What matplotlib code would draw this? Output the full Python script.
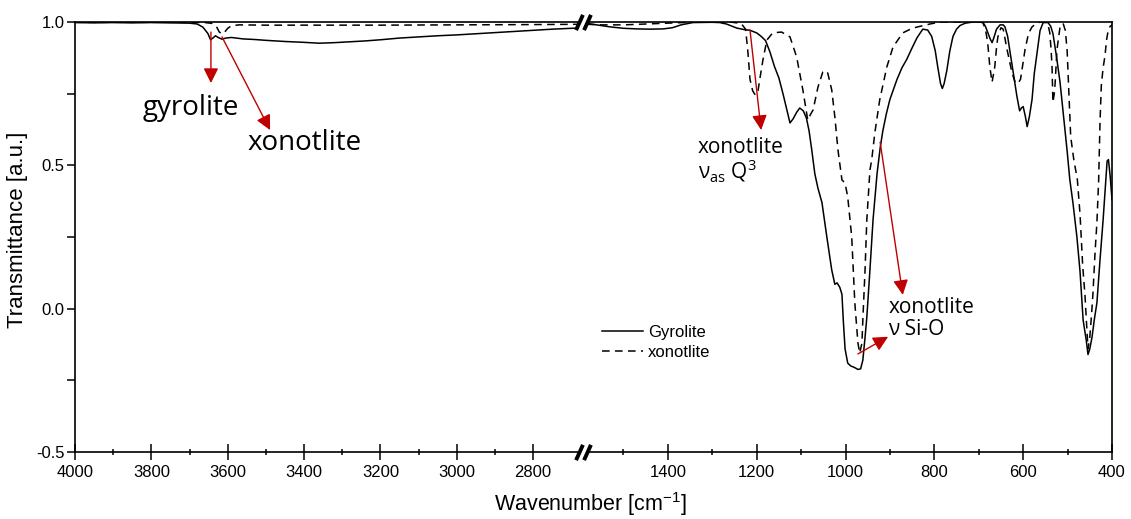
import matplotlib
matplotlib.use('Agg')
import matplotlib.pyplot as plt
from matplotlib.ticker import FixedLocator, FormatStrFormatter

plt.rcParams['font.family'] = ['Liberation Sans', 'DejaVu Sans']
plt.rcParams['axes.unicode_minus'] = False

# --- FTIR spectra (wavenumber in cm-1, transmittance in a.u.)
# high-wavenumber window (left panel)
gyr_wn_hi = [4000, 3950, 3900, 3850, 3800, 3750, 3700, 3680, 3665, 3652, 3645, 3638,
             3632, 3625, 3615, 3605, 3590, 3560, 3530, 3500, 3450, 3400, 3360, 3320,
             3280, 3240, 3200, 3150, 3100, 3050, 3000, 2950, 2900, 2850, 2800, 2750,
             2700, 2680]
gyr_tr_hi = [0.998, 0.997, 0.998, 0.997, 0.998, 0.997, 0.996, 0.993, 0.982, 0.960, 0.938, 0.945,
             0.952, 0.946, 0.940, 0.944, 0.946, 0.941, 0.939, 0.936, 0.932, 0.929, 0.926, 0.928,
             0.931, 0.934, 0.938, 0.944, 0.948, 0.952, 0.955, 0.959, 0.963, 0.967, 0.971, 0.975,
             0.978, 0.979]

xon_wn_hi = [4000, 3900, 3800, 3700, 3660, 3640, 3630, 3622, 3615, 3608, 3600, 3590,
             3570, 3500, 3400, 3200, 3000, 2800, 2680]
xon_tr_hi = [0.999, 0.999, 0.999, 0.999, 0.998, 0.995, 0.985, 0.965, 0.958, 0.965, 0.978, 0.987,
             0.990, 0.989, 0.989, 0.989, 0.990, 0.991, 0.992]

# fingerprint window (right panel)
gyr_wn_lo = [1582, 1560, 1530, 1500, 1470, 1440, 1410, 1390, 1370, 1344, 1300, 1283,
             1268, 1255, 1245, 1230, 1215, 1200, 1190, 1180, 1170, 1160, 1150, 1140,
             1132, 1125, 1118, 1110, 1103, 1095, 1088, 1082, 1076, 1069, 1062, 1053,
             1042, 1031, 1024, 1019, 1013, 1008, 1005, 1001, 995, 988, 980, 972,
             966, 961, 956, 952, 945, 938, 929, 922, 916, 908, 900, 892,
             884, 873, 862, 850, 839, 826, 815, 806, 798, 792, 786, 782,
             778, 772, 765, 758, 750, 742, 730, 713, 691, 685, 680, 674,
             670, 666, 660, 652, 645, 641, 635, 630, 622, 614, 608, 604,
             600, 595, 591, 586, 580, 575, 569, 562, 555, 544, 538, 533,
             525, 517, 509, 501, 495, 488, 479, 472, 465, 458, 454, 450,
             445, 440, 434, 427, 420, 414, 411, 408, 404, 400]
gyr_tr_lo = [0.995, 0.990, 0.983, 0.978, 0.976, 0.975, 0.976, 0.980, 0.990, 0.998, 0.999, 0.998,
             0.993, 0.985, 0.979, 0.974, 0.971, 0.962, 0.950, 0.935, 0.895, 0.845, 0.805, 0.745,
             0.693, 0.648, 0.662, 0.685, 0.700, 0.690, 0.665, 0.620, 0.554, 0.470, 0.420, 0.370,
             0.250, 0.135, 0.085, 0.090, 0.075, 0.050, -0.040, -0.140, -0.190, -0.200, -0.205, -0.212,
             -0.210, -0.180, -0.100, -0.030, 0.135, 0.310, 0.470, 0.560, 0.620, 0.680, 0.730, 0.765,
             0.800, 0.840, 0.870, 0.910, 0.945, 0.975, 0.972, 0.950, 0.900, 0.840, 0.785, 0.768,
             0.785, 0.830, 0.900, 0.950, 0.975, 0.988, 0.996, 1.000, 1.000, 0.985, 0.965, 0.940,
             0.928, 0.945, 0.975, 0.990, 0.990, 0.983, 0.950, 0.900, 0.820, 0.740, 0.690, 0.700,
             0.705, 0.670, 0.635, 0.670, 0.730, 0.820, 0.890, 0.970, 0.998, 0.998, 0.985, 0.960,
             0.880, 0.790, 0.670, 0.550, 0.450, 0.370, 0.250, 0.130, -0.040, -0.110, -0.160, -0.140,
             -0.100, -0.040, 0.020, 0.170, 0.310, 0.450, 0.515, 0.520, 0.460, 0.380]

xon_wn_lo = [1582, 1550, 1500, 1450, 1400, 1350, 1300, 1260, 1235, 1225, 1220, 1215,
             1209, 1203, 1197, 1193, 1186, 1177, 1164, 1144, 1125, 1110, 1096, 1085,
             1078, 1073, 1062, 1051, 1045, 1040, 1031, 1024, 1017, 1008, 1001, 995,
             986, 979, 972, 968, 963, 961, 956, 952, 945, 941, 934, 923,
             907, 893, 871, 850, 832, 810, 787, 700, 691, 685, 680, 675,
             670, 664, 660, 657, 650, 645, 636, 625, 618, 612, 606, 600,
             596, 588, 580, 570, 562, 550, 544, 540, 537, 535, 533, 530,
             528, 524, 517, 510, 505, 501, 497, 493, 486, 478, 472, 466,
             461, 457, 454, 450, 446, 443, 438, 434, 430, 427, 424, 420,
             416, 412, 408, 404, 400]
xon_tr_lo = [0.992, 0.990, 0.990, 0.993, 0.996, 0.999, 1.000, 1.000, 0.995, 0.975, 0.900, 0.800,
             0.760, 0.745, 0.760, 0.800, 0.867, 0.937, 0.962, 0.965, 0.948, 0.878, 0.763, 0.658,
             0.680, 0.693, 0.773, 0.826, 0.830, 0.822, 0.763, 0.669, 0.554, 0.449, 0.438, 0.390,
             0.250, 0.020, -0.120, -0.155, -0.120, -0.040, 0.135, 0.310, 0.484, 0.519, 0.613, 0.728,
             0.843, 0.913, 0.962, 0.978, 0.985, 0.993, 1.000, 1.000, 0.998, 0.975, 0.930, 0.843,
             0.790, 0.843, 0.910, 0.948, 0.980, 0.975, 0.902, 0.822, 0.790, 0.785, 0.800, 0.860,
             0.902, 0.960, 0.983, 0.995, 1.000, 1.000, 0.990, 0.962, 0.900, 0.843, 0.720, 0.750,
             0.787, 0.902, 0.983, 0.995, 0.970, 0.900, 0.750, 0.600, 0.520, 0.450, 0.330, 0.150,
             0.050, -0.060, -0.140, -0.100, -0.020, 0.050, 0.200, 0.300, 0.450, 0.650, 0.780, 0.840,
             0.880, 0.940, 0.975, 0.985, 0.990]

hi_major = [4000, 3800, 3600, 3400, 3200, 3000, 2800]
hi_minor = [3900, 3700, 3500, 3300, 3100, 2900]
lo_major = [1400, 1200, 1000, 800, 600, 400]
lo_minor = [1500, 1300, 1100, 900, 700, 500]
y_major = [-0.5, 0.0, 0.5, 1.0]
y_minor = [-0.25, 0.25, 0.75]

W, H = 1131, 519
fig = plt.figure(figsize=(W / 100, H / 100), dpi=100)
ax_l = fig.add_axes([75 / W, 1 - 452 / H, (579 - 75) / W, 430 / H])
ax_r = fig.add_axes([587 / W, 1 - 452 / H, (1112 - 587) / W, 430 / H])

solid = dict(color='black', lw=1.1, ls='-')
dashed = dict(color='black', lw=1.1, ls=(0, (5, 3.5)))

ax_l.plot(gyr_wn_hi, gyr_tr_hi, **solid)
ax_l.plot(xon_wn_hi, xon_tr_hi, **dashed)
h1, = ax_r.plot(gyr_wn_lo, gyr_tr_lo, label='Gyrolite', **solid)
h2, = ax_r.plot(xon_wn_lo, xon_tr_lo, label='xonotlite', **dashed)

ax_l.set_xlim(4000, 2680)
ax_r.set_xlim(1582, 400)
for ax in (ax_l, ax_r):
    ax.set_ylim(-0.5, 1.0)
    for s in ax.spines.values():
        s.set_linewidth(1.2)
    ax.tick_params(axis='x', which='major', direction='inout', length=11.5, width=1.1,
                   labelsize=12, pad=3.5)
    ax.tick_params(axis='x', which='minor', direction='inout', length=5, width=1.1)

ax_l.xaxis.set_major_locator(FixedLocator(hi_major))
ax_l.xaxis.set_minor_locator(FixedLocator(hi_minor))
ax_r.xaxis.set_major_locator(FixedLocator(lo_major))
ax_r.xaxis.set_minor_locator(FixedLocator(lo_minor))
ax_l.xaxis.set_major_formatter(FormatStrFormatter('%d'))
ax_r.xaxis.set_major_formatter(FormatStrFormatter('%d'))

ax_l.yaxis.set_major_locator(FixedLocator(y_major))
ax_l.yaxis.set_minor_locator(FixedLocator(y_minor))
ax_l.yaxis.set_major_formatter(FormatStrFormatter('%.1f'))
ax_l.tick_params(axis='y', which='both', direction='out', length=5.5, width=1.1,
                 labelsize=12, pad=2)
ax_l.spines['right'].set_visible(False)

ax_r.spines['left'].set_visible(False)
ax_r.tick_params(axis='y', which='both', left=False, labelleft=False)

# break marks
slash = [(-0.45, -1), (0.45, 1)]
mk = dict(marker=slash, markersize=11, mew=2.8, ls='none', color='black', clip_on=False)
ax_l.plot([1, 1], [0, 1], transform=ax_l.transAxes, **mk)
ax_r.plot([0, 0], [0, 1], transform=ax_r.transAxes, **mk)

fig.text(18 / W, 1 - 230 / H, 'Transmittance [a.u.]', rotation=90, fontsize=16,
         ha='center', va='center')
fig.text(590 / W, 1 - 504 / H, 'Wavenumber [cm$\\mathregular{^{-1}}$]', fontsize=15.5,
         ha='center', va='center')

fig.legend(handles=[h1, h2], loc='upper left', bbox_to_anchor=(602 / W, 1 - 325 / H),
           frameon=False, fontsize=12, handlelength=2.45, handletextpad=0.3,
           borderpad=0, borderaxespad=0, labelspacing=0.3)

# annotations
red = '#c00000'
arrow = dict(arrowstyle='-|>,head_length=0.6,head_width=0.3', color=red, lw=1.0,
             shrinkA=0, shrinkB=0, mutation_scale=15)
note_font = ['Open Sans', 'DejaVu Sans']

ax_l.annotate('', xy=(3644, 0.787), xytext=(3644, 0.965), arrowprops=arrow)
ax_l.annotate('', xy=(3489, 0.623), xytext=(3615, 0.948), arrowprops=arrow)
ax_r.annotate('', xy=(1190, 0.623), xytext=(1215, 0.972), arrowprops=arrow)
ax_r.annotate('', xy=(871, 0.048), xytext=(922, 0.581), arrowprops=arrow)
ax_r.annotate('', xy=(904, -0.098), xytext=(972, -0.158), arrowprops=arrow)

ax_l.text(3822, 0.676, 'gyrolite', fontsize=20, family=note_font, va='baseline')
ax_l.text(3549, 0.554, 'xonotlite', fontsize=20, family=note_font, va='baseline')
ax_r.text(1332, 0.543, 'xonotlite', fontsize=15, family=note_font, va='baseline')
ax_r.text(1332, 0.456, 'ν$_\\mathregular{as}$ Q$^\\mathregular{3}$', fontsize=15,
          family=note_font, va='baseline')
ax_r.text(904, -0.015, 'xonotlite', fontsize=15, family=note_font, va='baseline')
ax_r.text(904, -0.092, 'ν Si-O', fontsize=15, family=note_font, va='baseline')

fig.savefig('out.png', dpi=100)
